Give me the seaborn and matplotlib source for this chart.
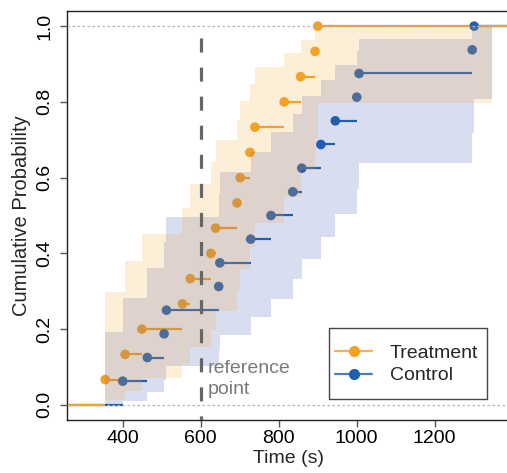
import matplotlib
matplotlib.use("Agg")
import matplotlib.pyplot as plt
from matplotlib.lines import Line2D
from matplotlib.patches import Rectangle
import numpy as np
import pandas as pd
import seaborn as sns

# ---------------- data ----------------
groups = ["Treatment", "Control"]

treat_times = [355, 406, 449, 553, 573, 626, 638, 693, 701, 726, 739, 814, 856, 893, 900]
treat_prob = [0.0667, 0.1333, 0.2, 0.2667, 0.3333, 0.4, 0.4667, 0.5333, 0.6,
              0.6667, 0.7333, 0.8, 0.8667, 0.9333, 1.0]
ctrl_times = [400, 463, 506, 512, 646, 649, 728, 780, 836, 859, 908, 945, 1000,
              1006, 1296, 1301]
ctrl_prob = [0.0625, 0.125, 0.1875, 0.25, 0.3125, 0.375, 0.4375, 0.5, 0.5625,
             0.625, 0.6875, 0.75, 0.8125, 0.875, 0.9375, 1.0]

# confidence band (one value per step, starting before the first event)
treat_lower = [0.0, 0.0119, 0.0374, 0.0705, 0.1090, 0.1518, 0.1982, 0.2481, 0.3012,
               0.3575, 0.4171, 0.4805, 0.5481, 0.6212, 0.7018, 0.7961]
treat_upper = [0.2039, 0.2982, 0.3788, 0.4519, 0.5195, 0.5829, 0.6425, 0.6988, 0.7519,
               0.8018, 0.8482, 0.8910, 0.9295, 0.9626, 0.9881, 1.0]
ctrl_lower = [0.0, 0.0111, 0.0350, 0.0659, 0.1018, 0.1416, 0.1848, 0.2310, 0.2800,
              0.3318, 0.3864, 0.4440, 0.5050, 0.5699, 0.6398, 0.7167, 0.8064]
ctrl_upper = [0.1936, 0.2833, 0.3602, 0.4301, 0.4950, 0.5560, 0.6136, 0.6682, 0.7200,
              0.7690, 0.8152, 0.8584, 0.8982, 0.9341, 0.9650, 0.9889, 1.0]
band_start = 355
band_end = 1347

reference_time = 600
x_ticks = [400, 600, 800, 1000, 1200]
y_ticks = [0.0, 0.2, 0.4, 0.6, 0.8, 1.0]
y_tick_labels = ["0.0", "0.2", "0.4", "0.6", "0.8", "1.0"]

# ---------------- style ----------------
sns.set_theme(style="white")
plt.rcParams["font.family"] = ["Liberation Sans", "DejaVu Sans"]

orange = "#F5A01F"
blue = "#1F5EB0"
band_orange = "#F5AA3C"
band_blue = "#3C5AB4"

XMIN, XMAX = 257, 1393
YMIN, YMAX = -0.04, 1.04

fig = plt.figure(figsize=(5.07, 4.73), dpi=100)
ax = fig.add_axes([67 / 507, 53 / 473, (510 - 67) / 507, (420 - 11) / 473])
ax.set_xlim(XMIN, XMAX)
ax.set_ylim(YMIN, YMAX)

series = [
    ("Control", ctrl_times, ctrl_prob, ctrl_lower, ctrl_upper, blue, band_blue),
    ("Treatment", treat_times, treat_prob, treat_lower, treat_upper, orange, band_orange),
]

rows = []
for name, times, prob, lo, hi, col, bcol in series:
    # step segments (no risers)
    seg_x0 = [XMIN - 50] + list(times)
    seg_x1 = list(times) + [XMAX + 50]
    seg_y = [0.0] + list(prob)
    ax.hlines(seg_y, seg_x0, seg_x1, colors=col, linewidth=1.6, zorder=2)
    # confidence band
    bx = [band_start] + list(times) + [band_end]
    lo_s = list(lo) + [lo[-1]]
    hi_s = list(hi) + [hi[-1]]
    ax.fill_between(bx, lo_s, hi_s, step="post", color=bcol, alpha=0.2,
                    linewidth=0, zorder=3)
    for t, p in zip(times, prob):
        rows.append({"time": t, "prob": p, "group": name})

df = pd.DataFrame(rows)
sns.scatterplot(data=df, x="time", y="prob", hue="group",
                palette={"Treatment": orange, "Control": blue},
                hue_order=["Control", "Treatment"],
                s=48, edgecolor="none", linewidth=0, legend=False, ax=ax, zorder=2.5)

# dotted reference lines at 0 and 1
for yy in (0.0, 1.0):
    ax.axhline(yy, color="#B5B5B5", linewidth=0.9, linestyle=(0, (2, 2)), zorder=4)

# dashed reference vertical line
ax.plot([reference_time, reference_time], [0.97, YMIN], color="#666666",
        linewidth=2.3, dashes=(4.4, 4.7), zorder=4.5)
ax.text(reference_time + 17, 0.068, "reference\npoint", color="#7A7A7A",
        fontsize=14, ha="left", va="center", linespacing=1.3, zorder=5)

# axes cosmetics
for s in ax.spines.values():
    s.set_color("#222222")
    s.set_linewidth(1.0)
ax.set_xticks(x_ticks)
ax.set_xticklabels([str(v) for v in x_ticks])
ax.set_yticks(y_ticks)
ax.set_yticklabels(y_tick_labels, rotation=90, va="center")
ax.tick_params(axis="both", which="both", direction="out", length=5, width=1,
               color="#555555", labelsize=14, labelcolor="black",
               left=True, bottom=True)
ax.tick_params(axis="y", pad=5)
ax.tick_params(axis="x", pad=2)
ax.set_xlabel("Time (s)", fontsize=14, labelpad=2)
ax.set_ylabel("Cumulative Probability", fontsize=14.5, labelpad=4)

# legend: box drawn separately, entries centred in it
box_x0, box_x1 = (329 - 67) / 443, (487 - 67) / 443
box_y0, box_y1 = (420 - 399) / 409, (420 - 328) / 409
ax.add_patch(Rectangle((box_x0, box_y0), box_x1 - box_x0, box_y1 - box_y0,
                       transform=ax.transAxes, facecolor="white",
                       edgecolor="#444444", linewidth=1.0, zorder=9))
handles = [
    Line2D([0], [0], color=(0.96, 0.63, 0.12, 0.8), linewidth=1.6, marker="o",
           markersize=7, markerfacecolor=orange, markeredgecolor=orange),
    Line2D([0], [0], color=(0.12, 0.37, 0.69, 0.8), linewidth=1.6, marker="o",
           markersize=7, markerfacecolor=blue, markeredgecolor=blue),
]
leg = ax.legend(handles, groups, loc="center",
                bbox_to_anchor=((box_x0 + box_x1) / 2 - 0.003, (box_y0 + box_y1) / 2 - 0.002),
                fontsize=14, frameon=False, borderaxespad=0, borderpad=0,
                handlelength=1.9, handletextpad=0.9, labelspacing=0.25)
leg.set_zorder(10)

fig.savefig("out.png", dpi=100)
